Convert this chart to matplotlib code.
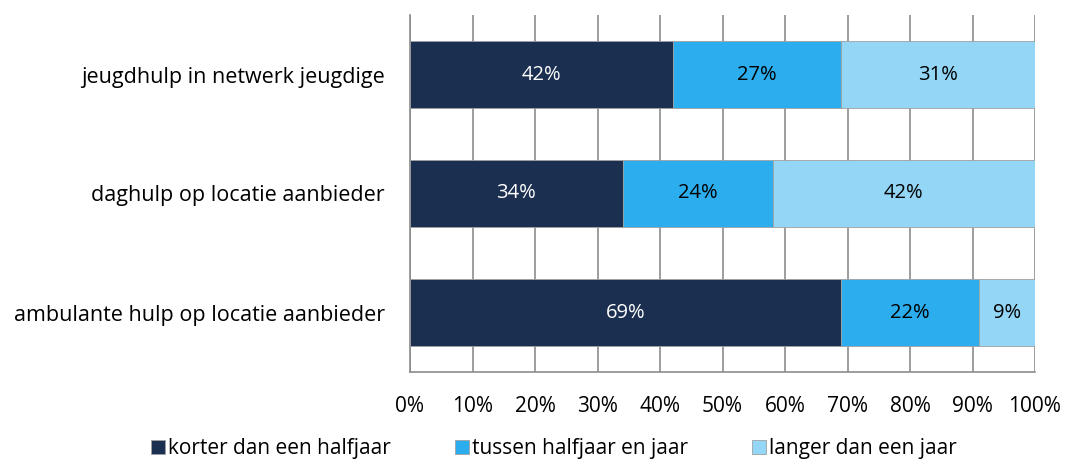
import matplotlib
matplotlib.use("Agg")
import matplotlib.pyplot as plt
import numpy as np

categorieen = ["jeugdhulp in netwerk jeugdige", "daghulp op locatie aanbieder", "ambulante hulp op locatie aanbieder"]
korter = [42, 34, 69]
tussen = [27, 24, 22]
langer = [31, 42, 9]
reeksen = ["korter dan een halfjaar", "tussen halfjaar en jaar", "langer dan een jaar"]
kleuren = ["#1b3050", "#2cadee", "#93d6f6"]
tekstkleur = ["white", "black", "black"]

plt.rcParams['font.family'] = ['Open Sans', 'DejaVu Sans']

fig = plt.figure(figsize=(10.65, 4.66), dpi=100)
ax = fig.add_axes([410/1065, 1-372/466, 625/1065, 357/466])

y = np.arange(len(categorieen))
links = np.zeros(len(categorieen))
for naam, waarden, kleur, tk in zip(reeksen, [korter, tussen, langer], kleuren, tekstkleur):
    bars = ax.barh(y, waarden, left=links, height=0.56, color=kleur, label=naam,
                   edgecolor="#a0a0a0", linewidth=0.6, zorder=3)
    for i, w in enumerate(waarden):
        ax.text(links[i] + w/2, y[i], f"{w}%", ha="center", va="center", color=tk, fontsize=14.5, zorder=4)
    links += np.array(waarden)

ax.set_xlim(0, 100)
ax.set_ylim(2.5, -0.5)
ax.set_yticks(y)
ax.set_yticklabels(categorieen, fontsize=15.5)
ax.set_xticks(range(0, 101, 10))
ax.set_xticklabels([f"{t}%" for t in range(0, 101, 10)], fontsize=15)
ax.xaxis.grid(True, color="#8c8c8c", linewidth=1.2, zorder=0)
ax.tick_params(axis="x", length=0, pad=17)
ax.tick_params(axis="y", length=0, pad=18)
for s in ["top", "right"]:
    ax.spines[s].set_visible(False)
ax.spines["left"].set_color("#8c8c8c")
ax.spines["bottom"].set_color("#8c8c8c")
ax.spines["left"].set_linewidth(1.2)
ax.spines["bottom"].set_linewidth(1.2)

fig.legend(loc="lower center", bbox_to_anchor=(0.52, -0.025), ncol=3, frameon=False, fontsize=15,
           handlelength=0.65, handleheight=0.65, handletextpad=0.15, columnspacing=3.1)

fig.savefig("out.png", dpi=100)
